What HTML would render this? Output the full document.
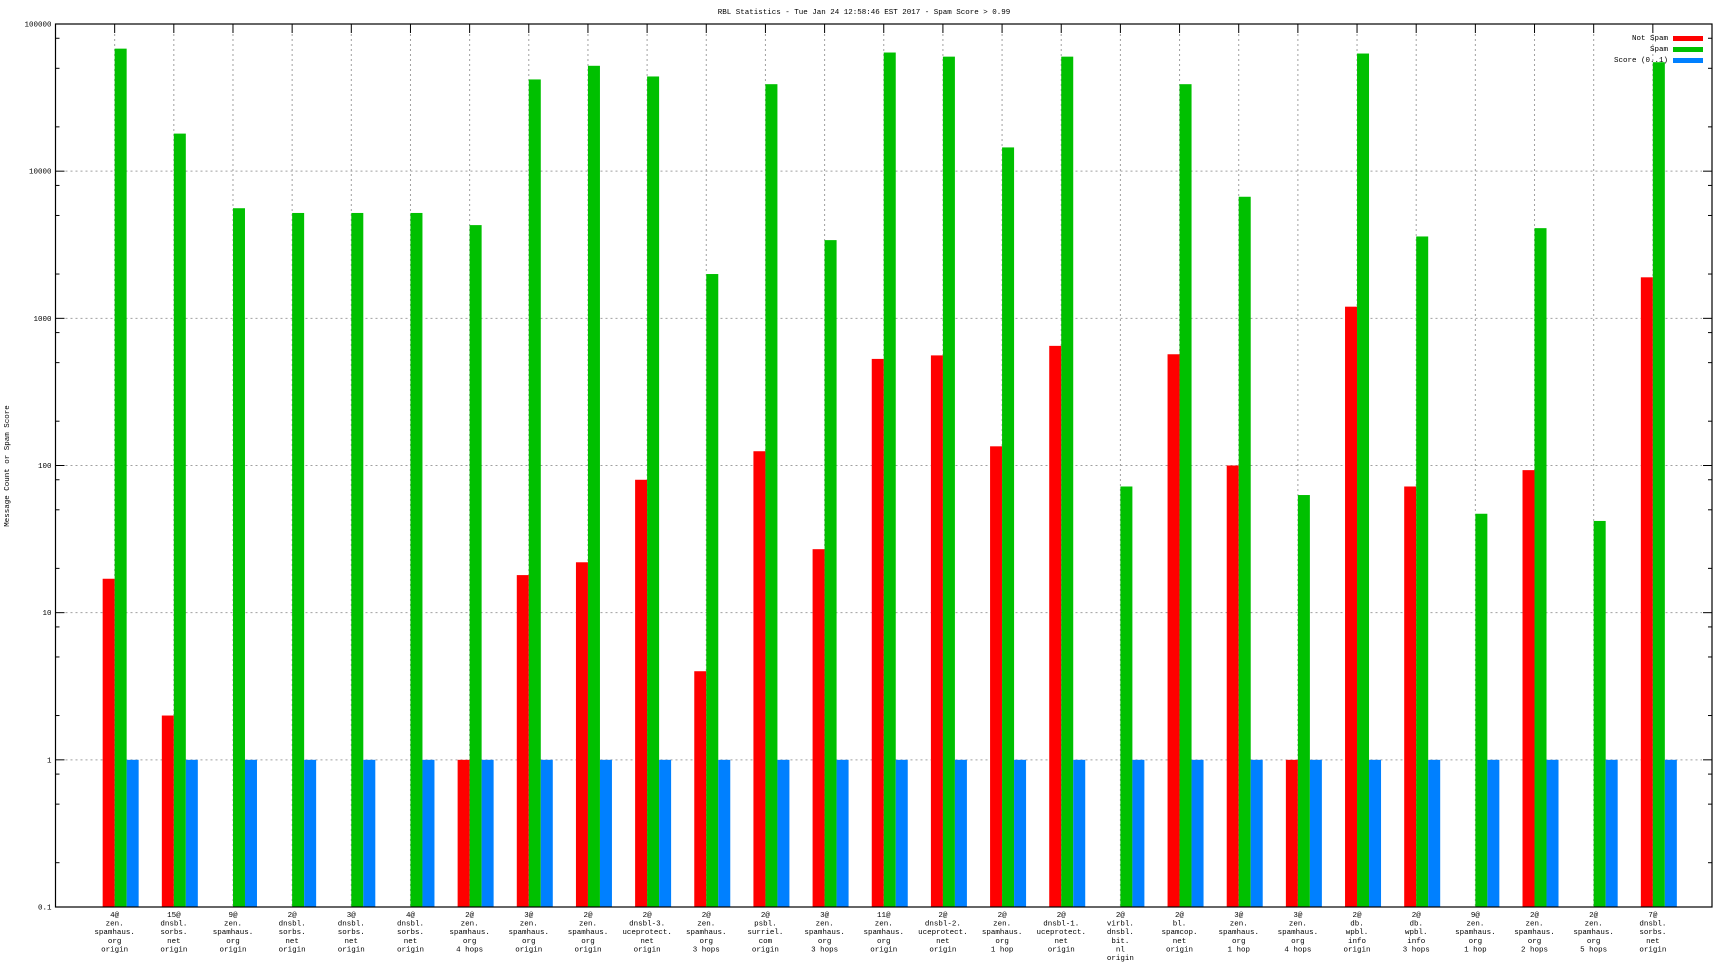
<!DOCTYPE html>
<html><head><meta charset="utf-8"><style>
html,body{margin:0;padding:0;background:#fff;}
svg{display:block;font-family:"Liberation Mono",monospace;}
</style></head><body>
<svg id="chart" width="1728" height="972" viewBox="0 0 1728 972" xmlns="http://www.w3.org/2000/svg">
<rect x="0" y="0" width="1728" height="972" fill="#fff"/>
<text x="864" y="14" font-size="7.5" text-anchor="middle">RBL Statistics - Tue Jan 24 12:58:46 EST 2017 - Spam Score &gt; 0.99</text>
<text transform="translate(9,466) rotate(-90)" font-size="7.5" text-anchor="middle">Message Count or Spam Score</text>
<g id="grid"></g><g id="bars"></g><g id="axes"></g><g id="xlabels"></g>
<g>
<text x="1668" y="40" font-size="7.5" text-anchor="end">Not Spam</text>
<rect x="1673" y="36" width="30" height="5" fill="#ff0000"/>
<text x="1668" y="51" font-size="7.5" text-anchor="end">Spam</text>
<rect x="1673" y="47" width="30" height="5" fill="#00c000"/>
<text x="1668" y="62" font-size="7.5" text-anchor="end">Score (0..1)</text>
<rect x="1673" y="58" width="30" height="5" fill="#0080ff"/>
</g>
</svg>
<script>
const categories = [
["4@","zen.","spamhaus.","org","origin"],
["15@","dnsbl.","sorbs.","net","origin"],
["9@","zen.","spamhaus.","org","origin"],
["2@","dnsbl.","sorbs.","net","origin"],
["3@","dnsbl.","sorbs.","net","origin"],
["4@","dnsbl.","sorbs.","net","origin"],
["2@","zen.","spamhaus.","org","4 hops"],
["3@","zen.","spamhaus.","org","origin"],
["2@","zen.","spamhaus.","org","origin"],
["2@","dnsbl-3.","uceprotect.","net","origin"],
["2@","zen.","spamhaus.","org","3 hops"],
["2@","psbl.","surriel.","com","origin"],
["3@","zen.","spamhaus.","org","3 hops"],
["11@","zen.","spamhaus.","org","origin"],
["2@","dnsbl-2.","uceprotect.","net","origin"],
["2@","zen.","spamhaus.","org","1 hop"],
["2@","dnsbl-1.","uceprotect.","net","origin"],
["2@","virbl.","dnsbl.","bit.","nl","origin"],
["2@","bl.","spamcop.","net","origin"],
["3@","zen.","spamhaus.","org","1 hop"],
["3@","zen.","spamhaus.","org","4 hops"],
["2@","db.","wpbl.","info","origin"],
["2@","db.","wpbl.","info","3 hops"],
["9@","zen.","spamhaus.","org","1 hop"],
["2@","zen.","spamhaus.","org","2 hops"],
["2@","zen.","spamhaus.","org","5 hops"],
["7@","dnsbl.","sorbs.","net","origin"]
];
const notSpam = [17,2,0,0,0,0,1,18,22,80,4,125,27,530,560,135,650,0,570,100,1,1200,72,0,93,0,1900];
const spam = [68000,18000,5600,5200,5200,5200,4300,42000,52000,44000,2000,39000,3400,64000,60000,14500,60000,72,39000,6700,63,63000,3600,47,4100,42,55000];
const score = [1,1,1,1,1,1,1,1,1,1,1,1,1,1,1,1,1,1,1,1,1,1,1,1,1,1,1];
const yTicks = ["0.1","1","10","100","1000","10000","100000"];

const NS="http://www.w3.org/2000/svg";
const L=55.5,R=1712,T=24,B=907;
const yMin=-1,yMax=5;
function y(v){return B-(Math.log10(v)-yMin)/(yMax-yMin)*(B-T);}
const step=(R-L)/(categories.length+1);
function x(i){return L+step*(i+1);}
const BW=12;
function mk(tag,attrs,parent){const e=document.createElementNS(NS,tag);for(const k in attrs)e.setAttribute(k,attrs[k]);parent.appendChild(e);return e;}
const grid=document.getElementById('grid'),bars=document.getElementById('bars'),axes=document.getElementById('axes'),xl=document.getElementById('xlabels');
// horizontal grid + y ticks
yTicks.forEach(t=>{const v=parseFloat(t),yy=y(v);
 if(v>yMin&&t!=="0.1"&&t!=="100000"){const g=mk('line',{x1:L+10,x2:R-10,y1:yy,y2:yy,stroke:'#a0a0a0','stroke-dasharray':'2,3','stroke-width':1},grid);
 
 }
 const tl=mk('text',{x:L-4,y:yy+2.5,'font-size':7.5,'text-anchor':'end'},axes);tl.textContent=t;
 
 
 mk('line',{x1:L,x2:L+9,y1:yy,y2:yy,stroke:'#000'},axes);
 mk('line',{x1:R,x2:R-9,y1:yy,y2:yy,stroke:'#000'},axes);
 if(t!=="100000"){[2,5,8].forEach(m=>{const my=y(v*m);mk('line',{x1:L,x2:L+4,y1:my,y2:my,stroke:'#000'},axes);mk('line',{x1:R,x2:R-4,y1:my,y2:my,stroke:'#000'},axes);});}
});
categories.forEach((c,i)=>{const cx=x(i);
 const g=mk('line',{x1:cx,x2:cx,y1:T+10,y2:B,stroke:'#a0a0a0','stroke-dasharray':'2,3'},grid);
 
 
 mk('line',{x1:cx,x2:cx,y1:T,y2:T+9,stroke:'#000'},axes);
 const series=[[notSpam[i],'#ff0000','bar-not-spam',-BW],[spam[i],'#00c000','bar-spam',0],[score[i],'#0080ff','bar-score',BW]];
 series.forEach(s=>{if(s[0]>0){const top=y(s[0]);const r=mk('rect',{x:cx+s[3],y:top,width:BW,height:B-top,fill:s[1]},bars);
  
  }});
 const t=mk('text',{'font-size':7.5,'text-anchor':'middle'},xl);
 
 
 c.forEach((ln,j)=>{const ts=mk('tspan',{x:cx,y:917+j*8.6},t);ts.textContent=ln;});
});
const fr=mk('rect',{x:L,y:T,width:R-L,height:B-T,fill:'none',stroke:'#000','stroke-width':1.2},axes);


</script>
</body></html>
